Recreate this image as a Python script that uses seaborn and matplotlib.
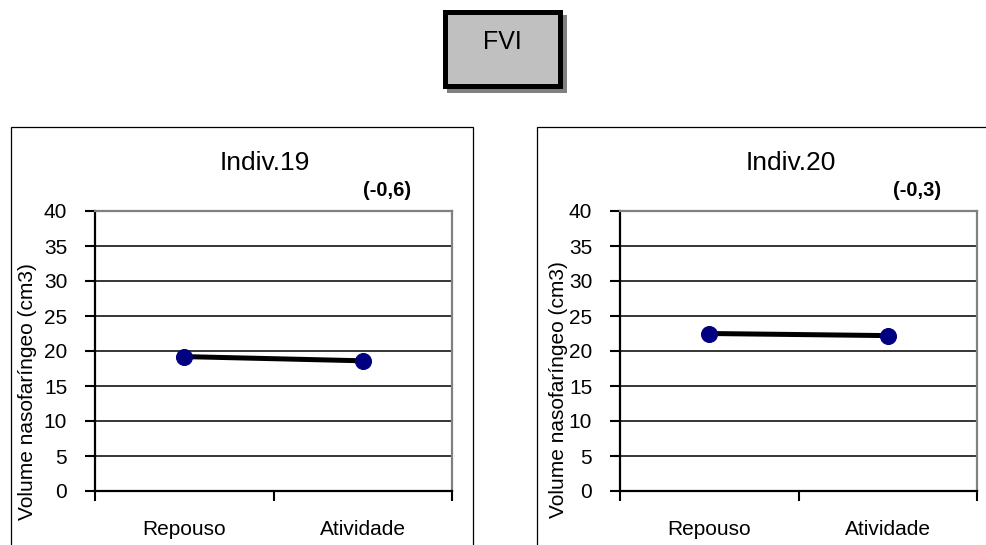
import matplotlib
matplotlib.use("Agg")
import matplotlib.pyplot as plt
from matplotlib.patches import Rectangle
import seaborn as sns
import pandas as pd

sns.set_theme(style="white")
plt.rcParams["font.family"] = ["Liberation Sans", "DejaVu Sans"]
plt.rcParams["text.color"] = "black"
plt.rcParams["xtick.color"] = "black"
plt.rcParams["ytick.color"] = "black"
plt.rcParams["xtick.labelcolor"] = "black"
plt.rcParams["ytick.labelcolor"] = "black"

# Data
conditions = ["Repouso", "Atividade"]
indiv19 = [19.2, 18.6]
indiv20 = [22.5, 22.2]
panel_titles = ["Indiv.19", "Indiv.20"]
panel_deltas = ["(-0,6)", "(-0,3)"]
y_ticks = [0, 5, 10, 15, 20, 25, 30, 35, 40]
y_label = "Volume nasofaríngeo (cm3)"
header = "FVI"

W, H = 986, 545
fig = plt.figure(figsize=(W / 100, H / 100), dpi=100)
fig.patch.set_facecolor("white")


def px_rect(x0, y0, x1, y1):
    """Figure-fraction rectangle from top-left pixel coordinates."""
    return [x0 / W, 1 - y1 / H, (x1 - x0) / W, (y1 - y0) / H]


def fig_xy(x, y):
    return x / W, 1 - y / H


# Header box with drop shadow
sx, sy, sw, sh = px_rect(447, 15, 567, 93)
fig.add_artist(Rectangle((sx, sy), sw, sh, transform=fig.transFigure,
                         facecolor="#808080", edgecolor="none", zorder=1))
bx, by, bw, bh = px_rect(444.5, 12.5, 559.5, 85.5)
fig.add_artist(Rectangle((bx, by), bw, bh, transform=fig.transFigure,
                         facecolor="#c0c0c0", edgecolor="black", lw=3.6, zorder=2))
fig.text(*fig_xy(502, 42), header, ha="center", va="center", fontsize=18,
         color="black", zorder=3)

panels = [
    dict(values=indiv19, frame=(11, 127, 473, 560), plot=(95, 211, 452, 491),
         title_x=265, delta_x=387, ylabel_x=28, ylabel_y=392),
    dict(values=indiv20, frame=(537, 127, 1000, 560), plot=(620, 211, 977, 491),
         title_x=791, delta_x=917, ylabel_x=558, ylabel_y=390),
]

for i, p in enumerate(panels):
    # Panel frame
    fx, fy, fw, fh = px_rect(*p["frame"])
    fig.add_artist(Rectangle((fx, fy), fw, fh, transform=fig.transFigure,
                             facecolor="none", edgecolor="black", lw=0.9, zorder=1))

    ax = fig.add_axes(px_rect(*p["plot"]))
    ax.set_facecolor("white")
    df = pd.DataFrame({"cond": conditions, "vol": p["values"]})
    sns.lineplot(data=df, x="cond", y="vol", ax=ax, color="black", lw=3.6,
                 marker="o", markersize=11.5, markerfacecolor="#000080",
                 markeredgecolor="#000080", sort=False, zorder=5)

    ax.set_xlim(-0.5, 1.5)
    ax.set_ylim(0, 40)
    ax.set_yticks(y_ticks)
    ax.set_yticklabels([str(v) for v in y_ticks], fontsize=15)
    ax.tick_params(axis="y", direction="out", length=7, width=1.5,
                   color="black", pad=13, left=True)

    # Category boundaries carry the tick marks, labels sit at the centres
    ax.set_xticks([-0.5, 0.5, 1.5])
    ax.set_xticklabels([])
    ax.tick_params(axis="x", which="major", direction="out", length=7,
                   width=1.5, color="black", bottom=True)
    ax.set_xticks([0, 1], minor=True)
    ax.set_xticklabels(conditions, minor=True, fontsize=15)
    ax.tick_params(axis="x", which="minor", length=0, pad=21)

    ax.set_xlabel("")
    ax.set_ylabel("")
    ax.grid(axis="y", color="black", lw=1.1)
    ax.grid(axis="x", visible=False)
    ax.set_axisbelow(True)

    for side in ("left", "bottom"):
        ax.spines[side].set_color("black")
        ax.spines[side].set_linewidth(1.6)
    for side in ("top", "right"):
        ax.spines[side].set_color("#808080")
        ax.spines[side].set_linewidth(1.6)

    fig.text(*fig_xy(p["title_x"], 163), panel_titles[i], ha="center",
             va="center", fontsize=19, color="black")
    fig.text(*fig_xy(p["delta_x"], 190), panel_deltas[i], ha="center",
             va="center", fontsize=14.5, fontweight="bold", color="black")
    fig.text(*fig_xy(p["ylabel_x"], p["ylabel_y"]), y_label, ha="center",
             va="center", rotation=90, fontsize=15, color="black")

fig.savefig("out.png", dpi=100, facecolor="white")
